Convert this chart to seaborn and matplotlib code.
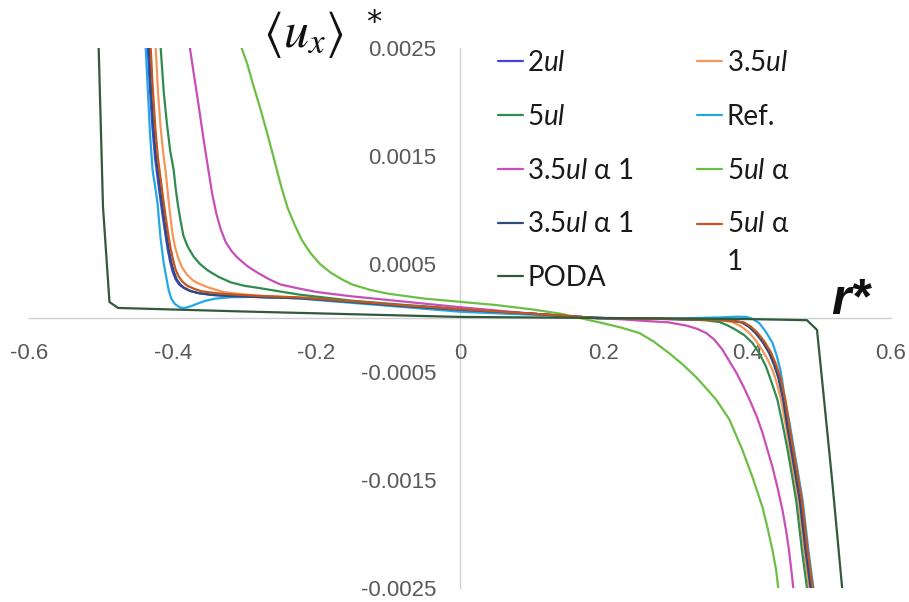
import matplotlib
matplotlib.use("Agg")
import matplotlib.pyplot as plt
import seaborn as sns

# ---------------- data ----------------
r_2ul = [-0.4347, -0.4315, -0.428, -0.4245, -0.421, -0.4175, -0.414, -0.4105, -0.407, -0.4035, -0.4, -0.396,
         -0.391, -0.385, -0.376, -0.365, -0.345, -0.32, -0.274, -0.222, -0.15, -0.075, 0.0, 0.1, 0.19,
         0.3, 0.37, 0.393, 0.403, 0.4125, 0.422, 0.431, 0.438, 0.444, 0.451, 0.456, 0.462, 0.468, 0.474,
         0.478, 0.482, 0.486, 0.489]
u_2ul = [0.0025, 0.0021, 0.00175, 0.00148, 0.0013, 0.00112, 0.00095, 0.00079, 0.00064, 0.00052, 0.00043, 0.00036,
         0.00031, 0.00028, 0.00025, 0.000232, 0.000215, 0.000205, 0.000194, 0.000185, 0.00015, 0.00011, 0.000078,
         0.00004, 0.0, -0.00001, -0.00002, -0.00004, -0.00008, -0.00014, -0.00022, -0.00032, -0.00043, -0.00055,
         -0.00076, -0.00098, -0.00122, -0.00145, -0.00169, -0.00192, -0.00215, -0.00235, -0.0025]

r_35ul = [-0.4236, -0.4205, -0.417, -0.4135, -0.4097, -0.4056, -0.4025, -0.3995, -0.396, -0.392, -0.387, -0.38,
          -0.372, -0.365, -0.35, -0.329, -0.3, -0.274, -0.222, -0.15, -0.075, 0.0, 0.1, 0.19,
          0.3, 0.36, 0.379, 0.392, 0.403, 0.412, 0.421, 0.428, 0.435, 0.441, 0.447, 0.453, 0.459, 0.465, 0.471,
          0.475, 0.479, 0.483, 0.486]
u_35ul = [0.0025, 0.0021, 0.00178, 0.00155, 0.00135, 0.00108, 0.0009, 0.00075, 0.00064, 0.00055, 0.00047, 0.0004,
          0.00035, 0.000322, 0.000282, 0.00024, 0.000218, 0.000204, 0.000188, 0.000155, 0.000115, 0.00008, 0.00004,
          0.0, -0.00001, -0.00002, -0.000037, -0.00008, -0.00014, -0.00021, -0.0003, -0.00038, -0.00048, -0.0006,
          -0.00076, -0.00098, -0.00122, -0.00145, -0.00169, -0.00192, -0.00215, -0.00235, -0.0025]

r_5ul = [-0.4167, -0.4125, -0.408, -0.4035, -0.3986, -0.396, -0.393, -0.389, -0.385, -0.379, -0.371, -0.362,
         -0.351, -0.336, -0.319, -0.3, -0.282, -0.25, -0.222, -0.15, -0.075, 0.0, 0.1, 0.19,
         0.3, 0.34, 0.361, 0.373, 0.384, 0.396, 0.407, 0.417, 0.426, 0.434, 0.442, 0.449, 0.456, 0.462, 0.468,
         0.472, 0.476, 0.48, 0.483]
u_5ul = [0.0025, 0.0021, 0.0018, 0.00155, 0.00137, 0.00121, 0.00106, 0.0009, 0.00076, 0.00066, 0.00057, 0.0005,
         0.00044, 0.00038, 0.00033, 0.000298, 0.00028, 0.000245, 0.000215, 0.00016, 0.00012, 0.000085, 0.00004,
         0.0, -0.00001, -0.00002, -0.000037, -0.00007, -0.00011, -0.00016, -0.00023, -0.00033, -0.00045, -0.0006,
         -0.00076, -0.00098, -0.00122, -0.00145, -0.00169, -0.00192, -0.00215, -0.00235, -0.0025]

r_ref = [-0.4375, -0.4345, -0.4315, -0.428, -0.4245, -0.421, -0.419, -0.417, -0.4148, -0.4125, -0.409, -0.4056,
         -0.402, -0.397, -0.389, -0.382, -0.375, -0.366, -0.355, -0.34, -0.32, -0.29, -0.25, -0.222, -0.15, -0.075,
         0.0, 0.1, 0.2, 0.3, 0.36, 0.385, 0.399, 0.408, 0.417, 0.426, 0.435, 0.441, 0.446, 0.449, 0.452, 0.459,
         0.465, 0.471, 0.477, 0.481, 0.485, 0.489, 0.492]
u_ref = [0.0025, 0.0021, 0.0017, 0.00137, 0.00122, 0.00106, 0.0009, 0.00075, 0.00063, 0.00051, 0.00038, 0.00026,
         0.00018, 0.00013, 0.000095, 0.000095, 0.000108, 0.000132, 0.000158, 0.00018, 0.000192, 0.000196, 0.000188,
         0.00018, 0.00014, 0.0001, 0.000058, 0.00003, 0.0, -0.000005, 0.000005, 0.000012, 0.00001, -0.00001,
         -0.00005, -0.00013, -0.00023, -0.00035, -0.00048, -0.0006, -0.00074, -0.00098, -0.00122, -0.00145,
         -0.00169, -0.00192, -0.00215, -0.00235, -0.0025]

r_35a1 = [-0.376, -0.371, -0.365, -0.358, -0.351, -0.345, -0.339, -0.333, -0.326, -0.318, -0.31, -0.296, -0.282,
          -0.266, -0.25, -0.222, -0.199, -0.15, -0.075, 0.0, 0.1, 0.18, 0.22, 0.264, 0.29, 0.315, 0.33, 0.343,
          0.354, 0.365, 0.375, 0.385, 0.395, 0.404, 0.413, 0.421, 0.428, 0.435, 0.442, 0.449, 0.454, 0.458,
          0.461, 0.464]
u_35a1 = [0.0025, 0.00228, 0.00202, 0.0017, 0.0014, 0.00115, 0.00096, 0.00082, 0.0007, 0.00062, 0.00056, 0.00048,
          0.00042, 0.00036, 0.00031, 0.00027, 0.00024, 0.0002, 0.00015, 0.0001, 0.00004, 0.0, -0.00001, -0.00003,
          -0.00004, -0.00007, -0.0001, -0.00014, -0.0002, -0.00029, -0.0004, -0.00051, -0.00064, -0.00077,
          -0.00091, -0.00106, -0.00122, -0.00138, -0.00157, -0.00178, -0.00197, -0.00215, -0.00232, -0.0025]

r_5a = [-0.304, -0.296, -0.288, -0.278, -0.268, -0.258, -0.249, -0.24, -0.23, -0.22, -0.208, -0.195, -0.18,
        -0.165, -0.15, -0.125, -0.1, -0.05, 0.0, 0.05, 0.1, 0.14, 0.167, 0.2, 0.225, 0.25, 0.27, 0.292, 0.31,
        0.329, 0.344, 0.357, 0.375, 0.393, 0.407, 0.421, 0.428, 0.435, 0.44, 0.443]
u_5a = [0.0025, 0.00235, 0.00216, 0.00194, 0.0017, 0.00145, 0.00122, 0.00102, 0.00086, 0.00072, 0.0006, 0.0005,
        0.00042, 0.00036, 0.00031, 0.00026, 0.000225, 0.00018, 0.00015, 0.00012, 0.00008, 0.00004, 0.0, -0.00005,
        -0.00009, -0.00014, -0.00022, -0.00033, -0.00043, -0.00055, -0.00066, -0.00076, -0.00094, -0.00122,
        -0.00147, -0.00175, -0.00194, -0.00215, -0.00233, -0.0025]

r_35a1b = [-0.433, -0.43, -0.4265, -0.423, -0.4195, -0.416, -0.4125, -0.409, -0.4055, -0.402, -0.3985, -0.3945,
           -0.3895, -0.384, -0.375, -0.364, -0.345, -0.32, -0.274, -0.222, -0.15, -0.075, 0.0, 0.1, 0.19,
           0.3, 0.37, 0.392, 0.402, 0.4115, 0.421, 0.43, 0.437, 0.443, 0.45, 0.455, 0.461, 0.467, 0.473, 0.477,
           0.481, 0.485, 0.488]
u_35a1b = [0.0025, 0.0021, 0.00175, 0.00148, 0.0013, 0.00112, 0.00095, 0.00079, 0.00064, 0.00052, 0.00043, 0.00036,
           0.00031, 0.00028, 0.00025, 0.00023, 0.000213, 0.000203, 0.000192, 0.000183, 0.000148, 0.000108, 0.000076,
           0.00004, 0.0, -0.00001, -0.00002, -0.00004, -0.00008, -0.00014, -0.00022, -0.00032, -0.00043, -0.00055,
           -0.00076, -0.00098, -0.00122, -0.00145, -0.00169, -0.00192, -0.00215, -0.00235, -0.0025]

r_5a1 = [-0.4306, -0.4275, -0.424, -0.4205, -0.417, -0.4135, -0.41, -0.4065, -0.403, -0.3995, -0.396, -0.392,
         -0.387, -0.38, -0.37, -0.36, -0.34, -0.31, -0.274, -0.222, -0.15, -0.075, 0.0, 0.1, 0.19,
         0.3, 0.37, 0.395, 0.405, 0.4145, 0.424, 0.433, 0.44, 0.446, 0.453, 0.458, 0.464, 0.47, 0.476, 0.48,
         0.484, 0.488, 0.491]
u_5a1 = [0.0025, 0.0021, 0.00175, 0.00148, 0.0013, 0.00112, 0.00095, 0.00079, 0.00065, 0.00054, 0.00045, 0.00039,
         0.00034, 0.0003, 0.00027, 0.000248, 0.00023, 0.000215, 0.000203, 0.00019, 0.000155, 0.000115, 0.000082,
         0.00004, 0.0, -0.00001, -0.00002, -0.00004, -0.00008, -0.00014, -0.00022, -0.00032, -0.00043, -0.00055,
         -0.00076, -0.00098, -0.00122, -0.00145, -0.00169, -0.00192, -0.00215, -0.00235, -0.0025]

r_poda = [-0.503, -0.497, -0.488, -0.476, -0.3, 0.0, 0.2, 0.4, 0.483, 0.497, 0.504, 0.518, 0.532]
u_poda = [0.0025, 0.00103, 0.000148, 0.000093, 0.00006, 0.00001, 0.0, -0.00001, -0.00002, -0.00011, -0.00057,
          -0.0015, -0.0025]

labels = [r"2$\mathit{ul}$", r"3.5$\mathit{ul}$", r"5$\mathit{ul}$", "Ref.", r"3.5$\mathit{ul}$ α 1",
          r"5$\mathit{ul}$ α", r"3.5$\mathit{ul}$ α 1", "5$\\mathit{ul}$ α\n1", "PODA"]
colors = ["#4545DE", "#F7965A", "#2F8C4E", "#22A8E6", "#C94FB6", "#6DBE45", "#2D4C7C", "#C4561F", "#2F5B3B"]

x_ticks = [-0.6, -0.4, -0.2, 0, 0.2, 0.4, 0.6]
x_ticklabels = ["-0.6", "-0.4", "-0.2", "0", "0.2", "0.4", "0.6"]
y_ticks = [-0.0025, -0.0015, -0.0005, 0.0005, 0.0015, 0.0025]
y_ticklabels = ["-0.0025", "-0.0015", "-0.0005", "0.0005", "0.0015", "0.0025"]

# ---------------- style ----------------
sns.set_theme(style="white")
plt.rcParams["font.family"] = ["Lato", "DejaVu Sans"]
plt.rcParams["mathtext.fontset"] = "custom"
plt.rcParams["mathtext.it"] = "Lato:italic"
plt.rcParams["mathtext.rm"] = "Lato"

fig = plt.figure(figsize=(9.09, 6.02), dpi=100)
W, H = 909, 602
ax = fig.add_axes([29 / W, (H - 588) / H, 862 / W, 540 / H])

series = [(r_2ul, u_2ul), (r_35ul, u_35ul), (r_5ul, u_5ul), (r_ref, u_ref), (r_35a1, u_35a1),
          (r_5a, u_5a), (r_35a1b, u_35a1b), (r_5a1, u_5a1), (r_poda, u_poda)]
for (rr, uu), lab, col in zip(series, labels, colors):
    sns.lineplot(x=rr, y=uu, ax=ax, color=col, lw=1.6, label=lab, sort=False, estimator=None)

ax.set_xlim(-0.6, 0.6)
ax.set_ylim(-0.0025, 0.0025)
ax.spines["left"].set_position(("data", 0))
ax.spines["bottom"].set_position(("data", 0))
for s in ["top", "right"]:
    ax.spines[s].set_visible(False)
for s in ["left", "bottom"]:
    ax.spines[s].set_color("#D0D0D0")
    ax.spines[s].set_linewidth(1.0)
    ax.spines[s].set_zorder(0)

ax.set_xticks(x_ticks)
ax.set_xticklabels(x_ticklabels)
ax.set_yticks(y_ticks)
ax.set_yticklabels(y_ticklabels)
ax.tick_params(axis="x", length=0, pad=18, labelsize=16, colors="#595959")
ax.tick_params(axis="y", length=0, pad=17, labelsize=16, colors="#595959")
for t in ax.get_xticklabels() + ax.get_yticklabels():
    t.set_family(["Liberation Sans", "DejaVu Sans"])
ax.set_xlabel("")
ax.set_ylabel("")
ax.grid(False)

# legend (two columns, Excel row-major order)
fs = 20
handles, labs = ax.get_legend_handles_labels()
order = [0, 2, 4, 6, 8, 1, 3, 5, 7]
leg = ax.legend([handles[i] for i in order], [labs[i] for i in order], ncol=2, frameon=False,
                loc="upper left", bbox_to_anchor=(498 / W, 1 - 50 / H), bbox_transform=fig.transFigure,
                fontsize=fs, handlelength=0.9, handletextpad=0.15, columnspacing=2.3, labelspacing=1.0,
                borderpad=0, borderaxespad=0)
for t in leg.get_texts():
    t.set_color("#1A1A1A")
leg.get_texts()[-1].set_linespacing(1.55)
h_last = leg.legend_handles[-1]
yd = h_last.get_ydata()
h_last.set_ydata([y + 14.4 for y in yd])

# axis titles
fig.text(263 / W, 1 - 47 / H, r"$\langle u_x\rangle$", fontsize=36, math_fontfamily="stix",
         ha="left", va="baseline", color="#111111")
fig.text(366 / W, 1 - 31 / H, "*", fontsize=22, family=["DejaVu Sans"],
         ha="left", va="baseline", color="#111111")
fig.text(831 / W, 1 - 314 / H, "r*", fontsize=36, family=["Liberation Sans"], style="italic",
         weight="bold", ha="left", va="baseline", color="#111111")

fig.savefig("out.png", dpi=100)
